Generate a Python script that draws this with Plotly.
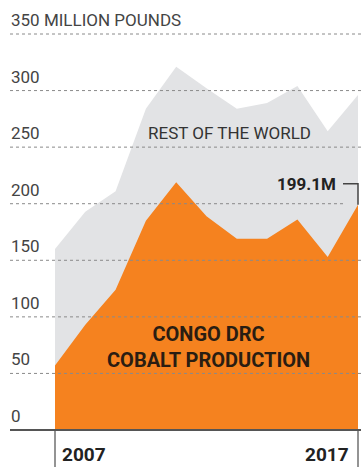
import plotly.graph_objects as go

# Cobalt production, million pounds
years = [2007, 2008, 2009, 2010, 2011, 2012, 2013, 2014, 2015, 2016, 2017]
congo_drc = [57, 93, 124, 185, 219, 189, 169, 169, 186, 153, 199.1]
world_total = [160, 193, 211, 284, 321, 302, 284, 289, 304, 264, 296]

grid_values = [0, 50, 100, 150, 200, 250, 300, 350]
grid_labels = ["0", "50", "100", "150", "200", "250", "300", "350 MILLION POUNDS"]
year_labels = ["2007", "2017"]

W, H = 361, 467
ORANGE = "#F5821F"
GREY_FILL = "#E2E3E5"
LABEL = "#444444"
DARK = "#2a1d12"
FONT = "Roboto"

# Axis ranges chosen so the plot spans the whole canvas
px_per_year = 30.3
x0 = 2007 - 55 / px_per_year
x1 = x0 + W / px_per_year
px_per_unit = (430 - 34) / 350
y_top = 430 / px_per_unit
y_bot = -(H - 430) / px_per_unit

fig = go.Figure()
fig.add_trace(go.Scatter(
    x=years, y=world_total, mode="lines", fill="tozeroy",
    line=dict(width=0, color=GREY_FILL), fillcolor=GREY_FILL,
    hoverinfo="skip", showlegend=False))
fig.add_trace(go.Scatter(
    x=years, y=congo_drc, mode="lines", fill="tozeroy",
    line=dict(width=0, color=ORANGE), fillcolor=ORANGE,
    hoverinfo="skip", showlegend=False))

shapes = []
annotations = []

# Dotted gridlines with labels sitting above them
for v, lab in zip(grid_values, grid_labels):
    if v > 0:
        x_end = 343 / W if v == 200 else 1
        shapes.append(dict(type="line", xref="paper", yref="y",
                           x0=10 / W, x1=x_end, y0=v, y1=v, layer="above",
                           line=dict(color="#8a8a8a", width=1, dash="dot")))
    annotations.append(dict(xref="paper", yref="y", x=9 / W, y=v,
                            xanchor="left", yanchor="middle", yshift=14,
                            text=lab, showarrow=False,
                            font=dict(family=FONT, size=17, color=LABEL)))

# Baseline and year ticks
shapes.append(dict(type="line", xref="paper", yref="y", x0=10 / W, x1=1,
                   y0=0, y1=0, layer="above",
                   line=dict(color="#555555", width=2)))
for yr in (years[0], years[-1]):
    shapes.append(dict(type="line", xref="x", yref="paper", x0=yr, x1=yr,
                       y0=0, y1=(H - 431) / H, layer="above",
                       line=dict(color="#707070", width=1.5)))

annotations.append(dict(xref="x", yref="paper", x=years[0], y=(H - 454) / H,
                        xanchor="left", yanchor="middle", xshift=5,
                        text="<b>%s</b>" % year_labels[0], showarrow=False,
                        font=dict(family=FONT, size=19, color="#222222")))
annotations.append(dict(xref="x", yref="paper", x=years[-1], y=(H - 454) / H,
                        xanchor="right", yanchor="middle", xshift=-7,
                        text="<b>%s</b>" % year_labels[1], showarrow=False,
                        font=dict(family=FONT, size=19, color="#222222")))

# Last-value callout
last_v = congo_drc[-1]
callout_v = last_v + 21 / px_per_unit
shapes.append(dict(type="path", xref="x", yref="y", layer="above",
                   path="M %f,%f L %f,%f L %f,%f" % (
                       years[-1] - 15 / px_per_year, callout_v,
                       years[-1], callout_v, years[-1], last_v),
                   line=dict(color="#444444", width=1.5)))
annotations.append(dict(xref="x", yref="y", x=years[-1], y=callout_v,
                        xanchor="right", yanchor="middle", xshift=-20,
                        text="<b>%.1fM</b>" % last_v, showarrow=False,
                        font=dict(family=FONT, size=17, color="#222222")))

# Series labels
annotations.append(dict(xref="paper", yref="paper", x=229 / W, y=(H - 133) / H,
                        xanchor="center", yanchor="middle",
                        text="REST OF THE WORLD", showarrow=False,
                        font=dict(family=FONT, size=17, color="#333333")))
annotations.append(dict(xref="paper", yref="paper", x=208 / W, y=(H - 347) / H,
                        xanchor="center", yanchor="middle",
                        text="<b>CONGO DRC<br>COBALT PRODUCTION</b>",
                        showarrow=False, align="center",
                        font=dict(family=FONT, size=20, color=DARK)))

fig.update_layout(
    width=W, height=H, margin=dict(l=0, r=0, t=0, b=0),
    paper_bgcolor="white", plot_bgcolor="white",
    xaxis=dict(range=[x0, x1], visible=False, fixedrange=True),
    yaxis=dict(range=[y_bot, y_top], visible=False, fixedrange=True),
    shapes=shapes, annotations=annotations,
)

fig.write_html("out.html")
